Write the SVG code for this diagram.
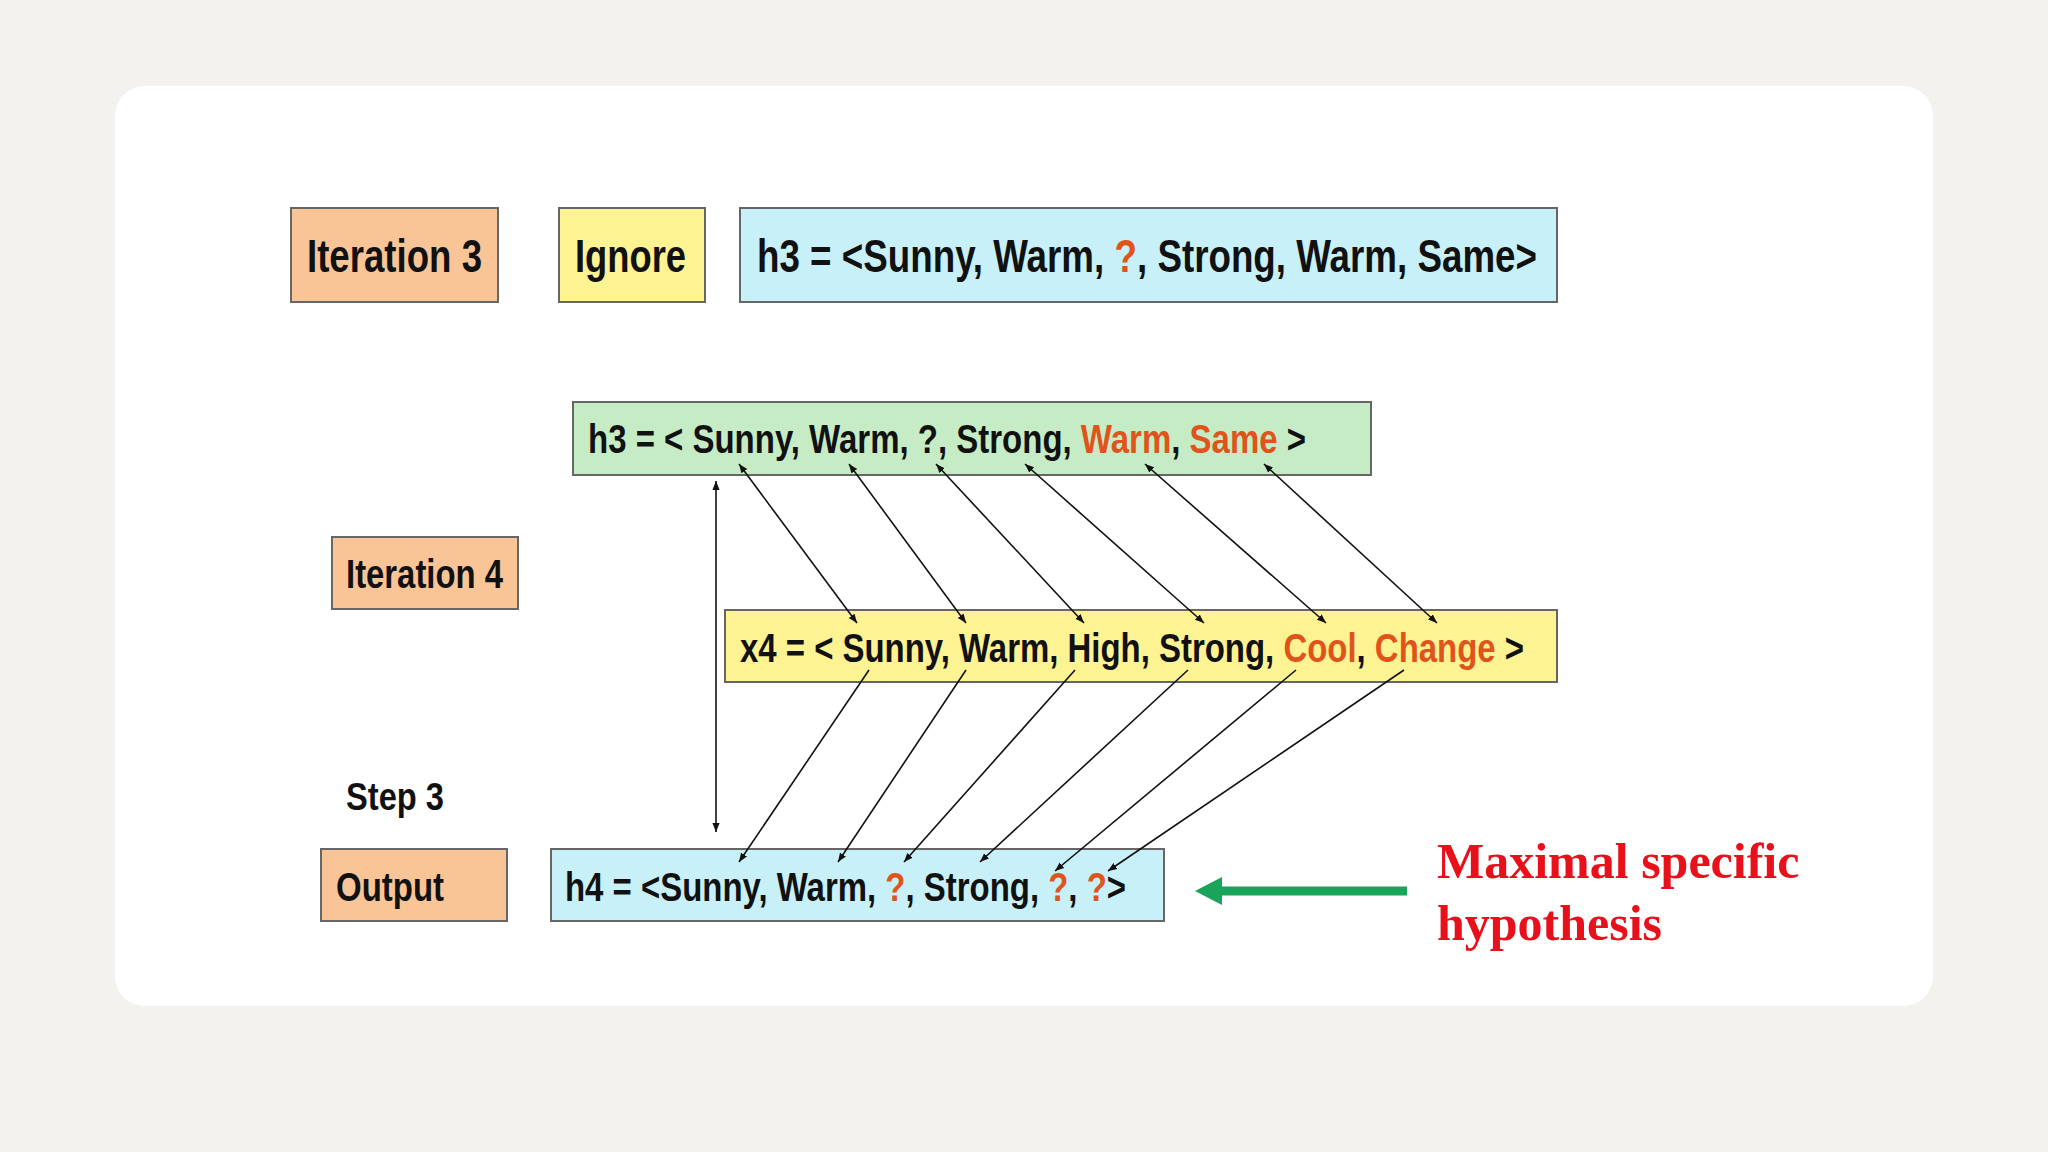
<svg xmlns="http://www.w3.org/2000/svg" width="2048" height="1152" viewBox="0 0 2048 1152">
<defs>
<marker id="ah" viewBox="0 0 10 10" refX="10" refY="5" markerWidth="9" markerHeight="9" orient="auto-start-reverse" markerUnits="userSpaceOnUse"><path d="M0,1 L10,5 L0,9 z" fill="#111"/></marker>
<style>
.box{stroke:#666;stroke-width:2}
.t{font-family:"Liberation Sans",Arial,sans-serif;font-weight:bold;fill:#111}
.o{fill:#e0541c}
.ln{stroke:#111;stroke-width:1.6;fill:none}
</style>
</defs>
<rect width="2048" height="1152" fill="#f3f2ef"/>
<rect x="115" y="86" width="1818" height="920" rx="30" fill="#fff"/>
<g id="iter3"><rect class="box" x="291" y="208" width="207" height="94" fill="#f9c596"/><text class="t" x="307" y="272" font-size="46" textLength="175" lengthAdjust="spacingAndGlyphs">Iteration 3</text></g>
<g id="ignore"><rect class="box" x="559" y="208" width="146" height="94" fill="#fdf392"/><text class="t" x="575" y="272" font-size="46" textLength="111" lengthAdjust="spacingAndGlyphs">Ignore</text></g>
<g id="h3top"><rect class="box" x="740" y="208" width="817" height="94" fill="#c8f0f8"/><text class="t" x="757" y="272" font-size="46" textLength="780" lengthAdjust="spacingAndGlyphs">h3 = &lt;Sunny, Warm, <tspan class="o">?</tspan>, Strong, Warm, Same&gt;</text></g>
<g id="h3"><rect class="box" x="573" y="402" width="798" height="73" fill="#c6ecc6"/><text class="t" x="588" y="453" font-size="40" textLength="718" lengthAdjust="spacingAndGlyphs">h3 = &lt; Sunny, Warm, ?, Strong, <tspan class="o">Warm</tspan>, <tspan class="o">Same</tspan> &gt;</text></g>
<g id="iter4"><rect class="box" x="332" y="537" width="186" height="72" fill="#f9c596"/><text class="t" x="346" y="588" font-size="40" textLength="157" lengthAdjust="spacingAndGlyphs">Iteration 4</text></g>
<g id="x4"><rect class="box" x="725" y="610" width="832" height="72" fill="#fdf392"/><text class="t" x="740" y="662" font-size="40" textLength="784" lengthAdjust="spacingAndGlyphs">x4 = &lt; Sunny, Warm, High, Strong, <tspan class="o">Cool</tspan>, <tspan class="o">Change</tspan> &gt;</text></g>
<g id="step3"><text class="t" x="346" y="810" font-size="38" textLength="98" lengthAdjust="spacingAndGlyphs">Step 3</text></g>
<g id="output"><rect class="box" x="321" y="849" width="186" height="72" fill="#f9c596"/><text class="t" x="336" y="901" font-size="40" textLength="108" lengthAdjust="spacingAndGlyphs">Output</text></g>
<g id="h4"><rect class="box" x="551" y="849" width="613" height="72" fill="#c8f0f8"/><text class="t" x="565" y="901" font-size="40" textLength="561" lengthAdjust="spacingAndGlyphs">h4 = &lt;Sunny, Warm, <tspan class="o">?</tspan>, Strong, <tspan class="o">?</tspan>, <tspan class="o">?</tspan>&gt;</text></g>
<g id="label"><text x="1437" y="878" font-family="Liberation Serif,serif" font-weight="bold" font-size="50" fill="#e8101a">Maximal specific</text><text x="1437" y="940" font-family="Liberation Serif,serif" font-weight="bold" font-size="50" fill="#e8101a">hypothesis</text></g>
<g id="connectors">
<line class="ln" x1="716" y1="481" x2="716" y2="832" marker-start="url(#ah)" marker-end="url(#ah)"/>
<line class="ln" x1="739" y1="464" x2="857" y2="623" marker-start="url(#ah)" marker-end="url(#ah)"/>
<line class="ln" x1="849" y1="464" x2="966" y2="623" marker-start="url(#ah)" marker-end="url(#ah)"/>
<line class="ln" x1="936" y1="464" x2="1084" y2="623" marker-start="url(#ah)" marker-end="url(#ah)"/>
<line class="ln" x1="1025" y1="464" x2="1204" y2="623" marker-start="url(#ah)" marker-end="url(#ah)"/>
<line class="ln" x1="1145" y1="464" x2="1326" y2="623" marker-start="url(#ah)" marker-end="url(#ah)"/>
<line class="ln" x1="1264" y1="464" x2="1437" y2="623" marker-start="url(#ah)" marker-end="url(#ah)"/>
<line class="ln" x1="869" y1="670" x2="739" y2="862" marker-end="url(#ah)"/>
<line class="ln" x1="966" y1="670" x2="838" y2="862" marker-end="url(#ah)"/>
<line class="ln" x1="1075" y1="670" x2="904" y2="862" marker-end="url(#ah)"/>
<line class="ln" x1="1188" y1="670" x2="980" y2="862" marker-end="url(#ah)"/>
<line class="ln" x1="1296" y1="670" x2="1055" y2="871" marker-end="url(#ah)"/>
<line class="ln" x1="1404" y1="670" x2="1108" y2="871" marker-end="url(#ah)"/>
<line x1="1407" y1="891" x2="1215" y2="891" stroke="#1aa35a" stroke-width="9"/>
<path d="M1195,891 L1222,877 L1222,905 z" fill="#1aa35a"/>
</g>
</svg>
